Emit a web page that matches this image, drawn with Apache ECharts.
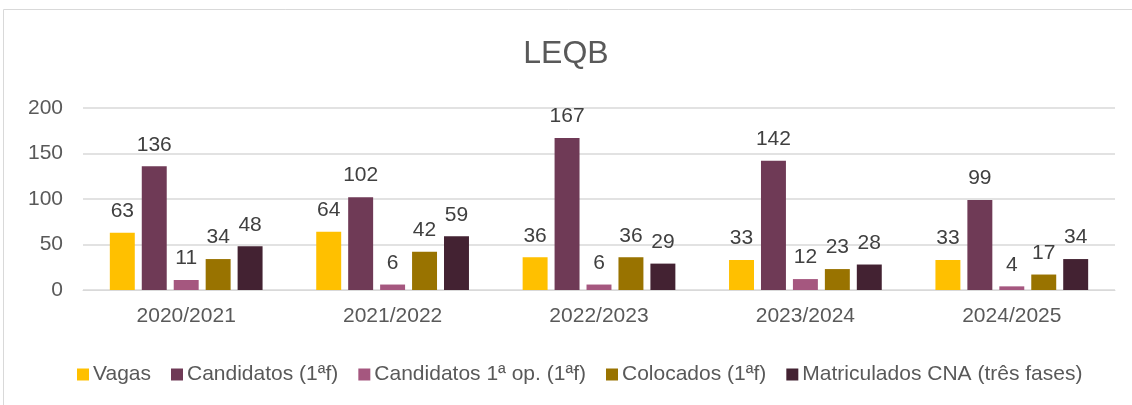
<!DOCTYPE html>
<html>
<head>
<meta charset="utf-8">
<script src="https://cdn.jsdelivr.net/npm/echarts@6/dist/echarts.min.js"></script>
<style>
html, body { margin: 0; padding: 0; background: #fff; }
#main { width: 1132px; height: 405px; }
</style>
</head>
<body>
<div id="main"></div>
<script>
var anos = ['2020/2021', '2021/2022', '2022/2023', '2023/2024', '2024/2025'];
var vagas = [63, 64, 36, 33, 33];
var candidatos = [136, 102, 167, 142, 99];
var candidatos1op = [11, 6, 6, 12, 4];
var colocados = [34, 42, 36, 23, 17];
var matriculados = [48, 59, 29, 28, 34];
var nomes = ['Vagas', 'Candidatos (1ªf)', 'Candidatos 1ª op. (1ªf)', 'Colocados (1ªf)', 'Matriculados CNA (três fases)'];
var cores = ['#FFC000', '#6F3A56', '#A5577F', '#997300', '#432232'];

var fonte = '"Liberation Sans", sans-serif';

var myChart = echarts.init(document.getElementById('main'));

function serie(nome, dados, cor) {
	return {
		name: nome,
		type: 'bar',
		data: dados,
		barGap: '28%',
		barCategoryGap: '26%',
		itemStyle: { color: cor },
		label: {
			show: true,
			position: 'top',
			distance: 11,
			color: '#404040',
			fontSize: 21,
			fontFamily: fonte
		}
	};
}

myChart.setOption({
	textStyle: { fontFamily: fonte },
	title: {
		text: 'LEQB',
		left: 'center',
		top: 33,
		textStyle: { color: '#595959', fontSize: 32, fontWeight: 'normal', fontFamily: fonte }
	},
	graphic: [{
		type: 'rect',
		shape: { x: 3.5, y: 9.5, width: 1140, height: 410 },
		style: { fill: 'none', stroke: '#d9d9d9', lineWidth: 1 },
		silent: true
	}],
	legend: {
		bottom: 15,
		left: 72,
		itemWidth: 12,
		itemHeight: 12,
		itemGap: 20,
		icon: 'rect',
		textStyle: { color: '#595959', fontSize: 21, fontFamily: fonte, padding: [0, 0, 0, -1] },
		data: nomes
	},
	grid: {
		left: 83,
		right: 17,
		top: 108,
		bottom: 115
	},
	xAxis: {
		type: 'category',
		data: anos,
		axisLine: { lineStyle: { color: '#d9d9d9' } },
		axisTick: { show: false },
		axisLabel: { color: '#595959', fontSize: 21, margin: 16, fontFamily: fonte }
	},
	yAxis: {
		type: 'value',
		min: 0,
		max: 200,
		interval: 50,
		axisLine: { show: false },
		axisTick: { show: false },
		axisLabel: { color: '#595959', fontSize: 21, margin: 20, fontFamily: fonte },
		splitLine: { lineStyle: { color: '#d9d9d9', width: 1.5 } }
	},
	series: [
		serie(nomes[0], vagas, cores[0]),
		serie(nomes[1], candidatos, cores[1]),
		serie(nomes[2], candidatos1op, cores[2]),
		serie(nomes[3], colocados, cores[3]),
		serie(nomes[4], matriculados, cores[4])
	]
});
</script>
</body>
</html>
